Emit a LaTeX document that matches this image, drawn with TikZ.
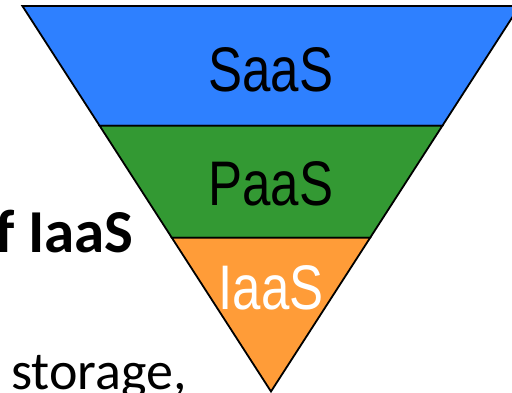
\documentclass[tikz,border=0pt]{standalone}
\usepackage{fontspec}
\setmainfont{Carlito}
\newfontfamily\narrowfont[FakeStretch=0.81]{Liberation Sans}
\usetikzlibrary{calc}
\definecolor{saasblue}{RGB}{46,128,255}
\definecolor{paasgreen}{RGB}{51,153,51}
\definecolor{iaasorange}{RGB}{255,156,56}
\tikzset{
  band/.style={draw=black, line width=1.8pt, line join=miter},
  layerlabel/.style={font=\narrowfont\fontsize{63}{63}\selectfont, inner sep=0pt, anchor=base},
  sidetext/.style={inner sep=0pt, anchor=base west}
}
\begin{document}
\begin{tikzpicture}[x=1pt,y=1pt]
\useasboundingbox (0,0) rectangle (512,393);
\clip (0,0) rectangle (512,393);
\coordinate (TL) at (22.4,387);
\coordinate (TR) at (519.6,387);
\coordinate (A) at (271,1.5);
\coordinate (L1) at ($(TL)!0.3105!(A)$);
\coordinate (R1) at ($(TR)!0.3105!(A)$);
\coordinate (L2) at ($(TL)!0.601!(A)$);
\coordinate (R2) at ($(TR)!0.601!(A)$);
\draw[band, fill=saasblue] (TL) -- (TR) -- (R1) -- (L1) -- cycle;
\draw[band, fill=paasgreen] (L1) -- (R1) -- (R2) -- (L2) -- cycle;
\draw[band, fill=iaasorange] (L2) -- (R2) -- (A) -- cycle;
\node[layerlabel] (saas) at (271,301) {SaaS};
\node[layerlabel] (paas) at (271,187) {PaaS};
\node[layerlabel, text=white] (iaas) at (271,83) {IaaS};
\node[sidetext, font=\fontsize{61}{61}\selectfont\bfseries] (title) at (-5,140) {f IaaS};
\node[sidetext, font=\fontsize{54}{54}\selectfont] (body) at (11,3) {storage,};
\end{tikzpicture}
\end{document}
